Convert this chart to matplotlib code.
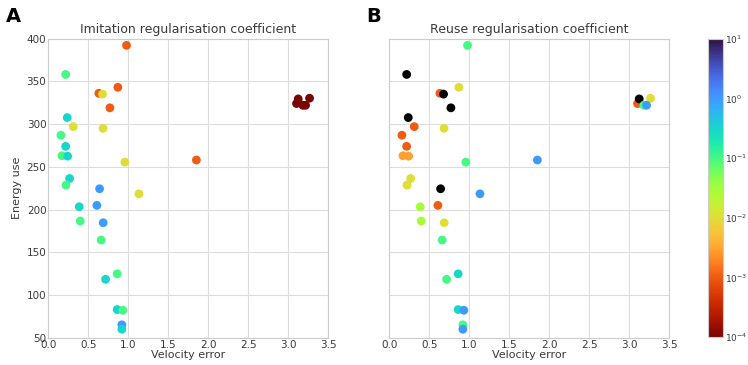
import matplotlib
matplotlib.use("Agg")
import matplotlib.pyplot as plt
import numpy as np
from matplotlib.colors import LogNorm

# shared points: (velocity error, energy use)
vel_err = [0.977, 0.215, 0.631, 0.677, 0.869, 0.769, 0.235, 0.31, 0.683, 0.156,
           0.215, 0.169, 0.24, 0.956, 1.852, 0.265, 0.219, 0.64, 1.133,
           3.106, 3.127, 3.269, 3.185, 3.219,
           0.606, 0.385, 0.398, 0.685, 0.66, 0.86, 0.715, 0.86, 0.931, 0.919, 0.919]
energy = [392, 358, 336, 335, 343, 319, 307.6, 297, 295, 287,
          274, 263, 262.5, 255.5, 258, 236.4, 228.7, 224.4, 218.5,
          324, 329.4, 330.2, 322, 322,
          205, 203.4, 186.7, 184.7, 164.5, 125, 118.6, 83.2, 82.4, 65.4, 60.2]
# imitation regularisation coefficient
imit_coef = [1e-3, 0.1, 1e-3, 1e-2, 1e-3, 1e-3, 0.3, 1e-2, 1e-2, 0.1,
             0.3, 0.1, 0.3, 1e-2, 1e-3, 0.3, 0.1, 1, 1e-2,
             1e-4, 1e-4, 1e-4, 1e-4, 1e-4,
             1, 0.3, 0.1, 1, 0.1, 0.1, 0.3, 0.3, 0.1, 1, 0.3]
# reuse regularisation coefficient (0 -> black)
reuse_coef = [0.1, 0, 1e-3, 0, 1e-2, 0, 0, 1e-3, 1e-2, 1e-3,
              1e-3, 3e-3, 3e-3, 0.1, 1, 1e-2, 1e-2, 0, 1,
              1e-3, 0, 1e-2, 0.1, 1,
              1e-3, 3e-2, 3e-2, 1e-2, 0.1, 0.3, 0.1, 0.3, 1, 0.1, 1]

cmap = plt.get_cmap("turbo_r").copy()
cmap.set_bad("black")
norm = LogNorm(vmin=1e-4, vmax=1e1)

plt.rcParams["font.family"] = "DejaVu Sans"
grid_c = "#dddddd"
text_c = "#3a3a3a"

fig = plt.figure(figsize=(7.48, 3.65), dpi=100)
axA = fig.add_axes([0.0648, 0.074, 0.3737, 0.8205])
axB = fig.add_axes([0.5207, 0.074, 0.3737, 0.8205])
cax = fig.add_axes([0.9465, 0.0767, 0.020, 0.8163])

for ax, c, title in [(axA, imit_coef, "Imitation regularisation coefficient"),
                     (axB, reuse_coef, "Reuse regularisation coefficient")]:
    vals = np.ma.masked_less_equal(np.array(c, dtype=float), 0)
    ax.scatter(vel_err, energy, c=vals, cmap=cmap, norm=norm, s=40,
               linewidths=0, zorder=3, plotnonfinite=True)
    ax.set_xlim(0, 3.5)
    ax.set_ylim(50, 400)
    ax.set_xticks(np.arange(0, 3.51, 0.5))
    ax.set_yticks(np.arange(50, 401, 50))
    ax.grid(True, color=grid_c, linewidth=0.8, zorder=0)
    ax.set_axisbelow(True)
    for s in ax.spines.values():
        s.set_color("#cccccc")
    ax.tick_params(length=0, labelsize=7.5, colors=text_c, pad=1.5)
    ax.set_xlabel("Velocity error", fontsize=8, color=text_c, labelpad=0)
    ax.set_title(title, fontsize=9, color=text_c, pad=4)

axA.set_ylabel("Energy use", fontsize=8, color=text_c, labelpad=3)
axB.tick_params(labelleft=False)

sm = plt.cm.ScalarMappable(norm=norm, cmap=plt.get_cmap("turbo_r"))
cb = fig.colorbar(sm, cax=cax)
cb.outline.set_edgecolor("#cccccc")
cax.tick_params(length=0, labelsize=6.5, colors=text_c, pad=1.5, which="both")

fig.text(0.008, 0.955, "A", fontsize=14, fontweight="bold", va="center")
fig.text(0.490, 0.955, "B", fontsize=14, fontweight="bold", va="center")

fig.savefig("out.png", dpi=100)
